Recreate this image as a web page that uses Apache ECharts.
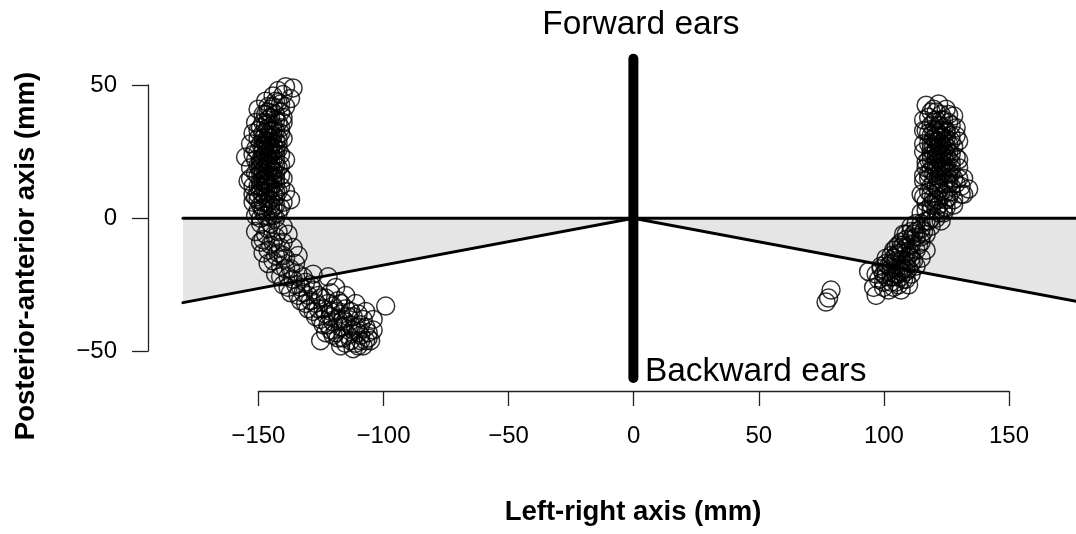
<!DOCTYPE html>
<html>
<head>
<meta charset="utf-8">
<script src="https://cdn.jsdelivr.net/npm/echarts@6/dist/echarts.min.js"></script>
<style>html,body{margin:0;padding:0;background:#fff}#c{width:1076px;height:534px}</style>
</head>
<body>
<div id="c"></div>
<script>
// ---- data ----
const xTicks = [-150, -100, -50, 0, 50, 100, 150];
const yTicks = [-50, 0, 50];
const xTitle = 'Left-right axis (mm)';
const yTitle = 'Posterior-anterior axis (mm)';
const labelForward = 'Forward ears';
const labelBackward = 'Backward ears';
const labelTrans = 'Trans';

const leftEar = [
 [-139,49.5],[-136,49],[-142,48],[-140,46.5],[-144,46],[-137,45],[-147,44],[-142,43.5],[-139,42],[-150,41],
 [-145,41],[-148,39],[-143,39],[-140,38],[-151,36],[-146,37],[-144,35],[-149,34],[-141,34],[-152,32],
 [-147,32],[-144,31],[-150,30],[-146,29],[-142,28],[-153,28],[-148,27],[-145,26],[-150,25],[-147,24],
 [-143,24],[-155,23],[-151,22],[-148,21],[-145,21],[-141,20],[-153,19],[-149,19],[-146,18],[-143,17],
 [-150,16],[-147,15],[-144,15],[-154,14],[-152,12],[-148,12],[-145,11],[-141,12],[-150,9],[-147,8],
 [-143,8],[-152,6],[-149,5],[-145,5],[-140,6],[-137,7],[-148,3],[-151,1],[-146,1],[-142,2],
 [-146,25],[-148,23],[-146,20],[-149,17],[-145,16],[-148,14],[-146,13],[-149,10],[-144,22],[-147,28],
 [-145,33],[-148,30],
 [-143,44],[-146,42],[-141,40],[-147,39],[-145,38],[-142,36],[-148,36],[-146,34],[-143,33],[-150,33],
 [-148,32],[-145,30],[-142,30],[-149,28],[-144,28],[-146,27],[-151,26],[-143,26],[-148,25],[-145,24],
 [-149,22],[-146,22],[-143,20],[-150,20],[-147,19],[-144,18],[-148,18],[-151,17],[-146,16],[-143,15],
 [-149,14],[-147,13],[-144,13],[-150,12],[-146,10],[-143,10],[-148,9],[-151,8],[-145,7],[-148,6],
 [-144,4],[-150,3],[-147,1],[-143,0],[-149,0],
 [-144,42],[-141,43],[-146,40],[-143,37],[-140,36],[-147,35],[-144,33],[-141,32],[-146,31],[-143,29],
 [-140,30],[-147,29],[-145,27],[-142,26],[-148,26],[-144,25],[-141,24],[-146,23],[-143,22],[-149,21],
 [-145,19],[-142,19],[-148,17],[-144,16],[-141,16],[-146,14],[-143,13],[-149,12],[-145,12],[-142,10],
 [-147,10],[-144,9],[-150,7],[-146,6],[-143,5],[-148,4],[-145,3],[-141,4],[-144,1],[-139,10],
 [-140,15],[-139,22],[-152,24],[-153,15],[-152,9],
 [-149,-2],[-145,-2],[-140,-3],[-151,-5],[-147,-6],[-143,-7],[-138,-6],[-149,-9],[-145,-10],[-141,-11],
 [-136,-11],[-148,-13],[-143,-14],[-139,-15],[-134,-14],[-146,-17],[-141,-18],[-137,-19],[-143,-21],[-138,-22],
 [-134,-21],[-140,-25],[-135,-25],[-131,-24],[-137,-28],[-132,-28],[-128,-27],[-133,-31],[-129,-31],[-125,-30],
 [-121,-28],[-130,-34],[-126,-34],[-122,-32],[-118,-31],[-127,-37],[-123,-36],[-119,-35],[-115,-34],[-124,-40],
 [-120,-39],[-116,-38],[-112,-37],[-121,-42],[-117,-41],[-113,-40],[-109,-40],[-118,-45],[-114,-44],[-110,-43],
 [-106,-43],[-115,-47],[-111,-47],[-107,-46],[-112,-49],[-108,-48],[-105,-46],[-119,-26],[-115,-29],[-111,-32],
 [-107,-35],[-104,-38],[-125,-46],[-99,-33],[-110,-36],[-116,-41],[-121,-37],[-122,-22],[-128,-21],
 [-146,-4],[-142,-5],[-148,-8],[-144,-9],[-140,-9],[-146,-12],[-142,-13],[-144,-16],[-140,-14],[-139,-19],
 [-141,-22],[-136,-23],[-138,-26],[-133,-26],[-134,-29],[-130,-29],[-131,-32],[-127,-32],[-128,-35],[-124,-34],
 [-125,-38],[-121,-35],[-122,-40],[-118,-38],[-119,-43],[-115,-39],[-116,-45],[-112,-42],[-113,-46],[-109,-44],
 [-110,-48],[-106,-45],[-108,-38],[-113,-35],[-117,-36],
 [-135,-17],[-132,-22],[-129,-25],[-126,-29],[-123,-30],[-120,-33],[-117,-32],[-114,-37],[-111,-41],[-107,-41],
 [-120,-44],[-117,-48],[-109,-46],[-104,-42],[-123,-43]
];

const rightEar = [
 [117,42.5],[122,43],[125,41],[119,40],[123,39],[128,38.5],[116,37],[121,37],[126,36],[119,35],
 [124,34],[129,34],[117,33],[122,32],[127,31],[120,30],[125,30],[130,29],[118,28],[123,28],
 [128,27],[121,26],[126,25],[116,25],[119,24],[124,23],[129,23],[122,22],[127,21],[117,21],
 [120,20],[125,19],[130,19],[123,18],[118,17],[127,17],[121,16],[126,15],[132,15],[116,14],
 [124,13],[129,13],[119,12],[134,11],[122,11],[127,10],[131,9],[115,9],[120,8],[125,7],
 [117,6],[122,5],[128,5],[119,3],[124,2],[115,2],[121,0],
 [122,27],[124,25],[121,23],[123,21],[122,19],[124,29],[120,27],[123,31],[122,24],
 [120,41],[118,38],[124,37],[122,35],[120,33],[125,33],[119,31],[121,29],[126,28],[119,26],
 [123,26],[125,24],[120,24],[118,22],[124,20],[121,19],[119,18],[125,17],[123,16],[120,14],
 [126,13],[122,13],[118,10],[124,9],[121,7],[119,5],[124,4],[117,3],[122,2],[119,0],
 [123,-1],[116,16],[128,15],[131,12],[132,9],[117,19],[121,33],[126,22],
 [121,40],[126,39],[123,37],[120,36],[127,35],[123,33],[118,32],[125,32],[121,31],[127,29],
 [122,29],[119,28],[125,27],[121,25],[127,24],[123,24],[119,22],[125,21],[121,21],[127,19],
 [123,19],[120,17],[126,17],[122,15],[118,15],[125,14],[121,12],[127,12],[123,10],[119,9],
 [126,8],[122,7],[128,7],[120,6],[116,8],[125,4],[121,3],[130,15],[130,22],[116,28],
 [116,33],[129,31],
 [117,-1],[113,-2],[119,-3],[115,-4],[111,-5],[117,-6],[113,-7],[109,-8],[115,-9],[111,-10],
 [107,-11],[113,-12],[117,-12],[104,-12],[109,-13],[105,-14],[101,-15],[111,-15],[115,-15],[107,-16],
 [103,-17],[109,-18],[113,-18],[99,-18],[105,-19],[101,-20],[107,-20],[111,-21],[97,-21],[103,-22],
 [108,-23],[105,-24],[100,-24],[110,-25],[107,-27],[102,-27],[97,-29],[96,-26],[94,-20],[78,-30],
 [79,-27],[77,-31.5],[106,-10],[108,-6],
 [115,-2],[111,-3],[113,-5],[109,-6],[115,-7],[111,-8],[107,-9],[109,-11],[105,-11],[111,-13],
 [107,-13],[103,-14],[105,-16],[109,-16],[101,-17],[107,-18],[111,-17],[103,-19],[99,-19],[105,-21],
 [109,-20],[101,-22],[107,-22],[103,-24],[98,-23],[106,-25],[109,-23],[104,-26],[100,-26],
 [112,-6],[108,-10],[104,-15],[106,-13],[110,-14],[102,-18],[106,-21],[104,-22],[108,-19],[100,-21],
 [110,-19],[112,-16],[114,-10],[116,-5],[118,-1]
];

const zeroLine = [[-180, 0], [180, 0]];
const slantLine = [[-180, -31.7], [0, 0], [180, -31.7]];
const earLine = [[0, -60], [0, 60]];
const transPolys = [
  [[-180, 0], [0, 0], [-180, -31.7]],
  [[180, 0], [0, 0], [180, -31.7]]
];

// ---- chart ----
const FONT = '"Liberation Sans", Arial, Helvetica, sans-serif';
const chart = echarts.init(document.getElementById('c'), null, {renderer: 'canvas'});
const minus = v => String(v).replace('-', '\u2212');

const option = {
  backgroundColor: '#fff',
  animation: false,
  grid: [
    {left: 183, top: 58.7, width: 893, height: 319.2},       // data region (clipped at right edge)
    {left: 258.4, top: 380, width: 750.6, height: 11},       // x axis display
    {left: 148, top: 85, width: 10, height: 266}             // y axis display
  ],
  xAxis: [
    {gridIndex: 0, type: 'value', min: -180, max: 176.9, show: false},
    {gridIndex: 1, type: 'value', min: -150, max: 150, interval: 50, position: 'bottom',
     axisLine: {show: true, onZero: false, lineStyle: {color: '#222', width: 1.3}},
     axisTick: {show: true, length: 15, lineStyle: {color: '#222', width: 1.3}},
     axisLabel: {margin: 33, color: '#000', fontSize: 24, fontFamily: FONT, formatter: minus},
     splitLine: {show: false}},
    {gridIndex: 2, type: 'value', min: 0, max: 1, show: false}
  ],
  yAxis: [
    {gridIndex: 0, type: 'value', min: -60, max: 60, show: false},
    {gridIndex: 1, type: 'value', min: 0, max: 1, show: false},
    {gridIndex: 2, type: 'value', min: -50, max: 50, interval: 50, position: 'left',
     axisLine: {show: true, onZero: false, lineStyle: {color: '#222', width: 1.3}},
     axisTick: {show: true, length: 16, lineStyle: {color: '#222', width: 1.3}},
     axisLabel: {margin: 31, color: '#000', fontSize: 24, fontFamily: FONT, formatter: minus},
     splitLine: {show: false}}
  ],
  series: [
    {
      type: 'custom', xAxisIndex: 0, yAxisIndex: 0, z: 1, silent: true, clip: false,
      data: transPolys.map((p, i) => [i, 0]),
      encode: {x: -1, y: -1},
      renderItem: (params, api) => ({
        type: 'polygon',
        shape: {points: transPolys[params.dataIndex].map(pt => api.coord(pt))},
        style: {fill: '#e5e5e5', stroke: null}
      })
    },
    {type: 'line', xAxisIndex: 0, yAxisIndex: 0, z: 2, data: zeroLine, symbol: 'none', silent: true, clip: false,
     lineStyle: {color: '#000', width: 3, cap: 'round'}},
    {type: 'line', xAxisIndex: 0, yAxisIndex: 0, z: 2, data: slantLine, symbol: 'none', silent: true, clip: false,
     lineStyle: {color: '#000', width: 3, cap: 'round', join: 'miter'}},
    {type: 'scatter', xAxisIndex: 0, yAxisIndex: 0, z: 3, data: leftEar, symbol: 'circle', symbolSize: 18,
     clip: false, itemStyle: {color: 'rgba(0,0,0,0)', borderColor: '#000', borderWidth: 1.5}},
    {type: 'scatter', xAxisIndex: 0, yAxisIndex: 0, z: 3, data: rightEar, symbol: 'circle', symbolSize: 18,
     clip: false, itemStyle: {color: 'rgba(0,0,0,0)', borderColor: '#000', borderWidth: 1.5}},
    {type: 'line', xAxisIndex: 0, yAxisIndex: 0, z: 4, data: earLine, symbol: 'none', silent: true, clip: false,
     lineStyle: {color: '#000', width: 10, cap: 'round'}}
  ]
};
chart.setOption(option);

// text labels anchored at data coordinates
const fwd = chart.convertToPixel({gridIndex: 0}, [3, 60]);
const bwd = chart.convertToPixel({gridIndex: 0}, [0, -58]);
const trn = chart.convertToPixel({gridIndex: 0}, [137, -14]);
chart.setOption({
  graphic: [
    {type: 'text', x: fwd[0], y: 25, style: {text: labelForward, fill: '#000', font: '33.5px ' + FONT,
      textAlign: 'center', textVerticalAlign: 'middle'}},
    {type: 'text', x: bwd[0] + 11.5, y: 372, style: {text: labelBackward, fill: '#000', font: '33.5px ' + FONT,
      textAlign: 'left', textVerticalAlign: 'middle'}},
    {type: 'text', x: trn[0] - 1, y: 256, style: {text: labelTrans, fill: '#000', font: '33.5px ' + FONT,
      textAlign: 'left', textVerticalAlign: 'middle'}},
    {type: 'text', x: 633, y: 512, style: {text: xTitle, fill: '#000', font: 'bold 27.5px ' + FONT,
      textAlign: 'center', textVerticalAlign: 'middle'}},
    {type: 'text', x: 26, y: 256, rotation: Math.PI / 2, style: {text: yTitle, fill: '#000',
      font: 'bold 27.5px ' + FONT, textAlign: 'center', textVerticalAlign: 'middle'}}
  ]
});
</script>
</body>
</html>
